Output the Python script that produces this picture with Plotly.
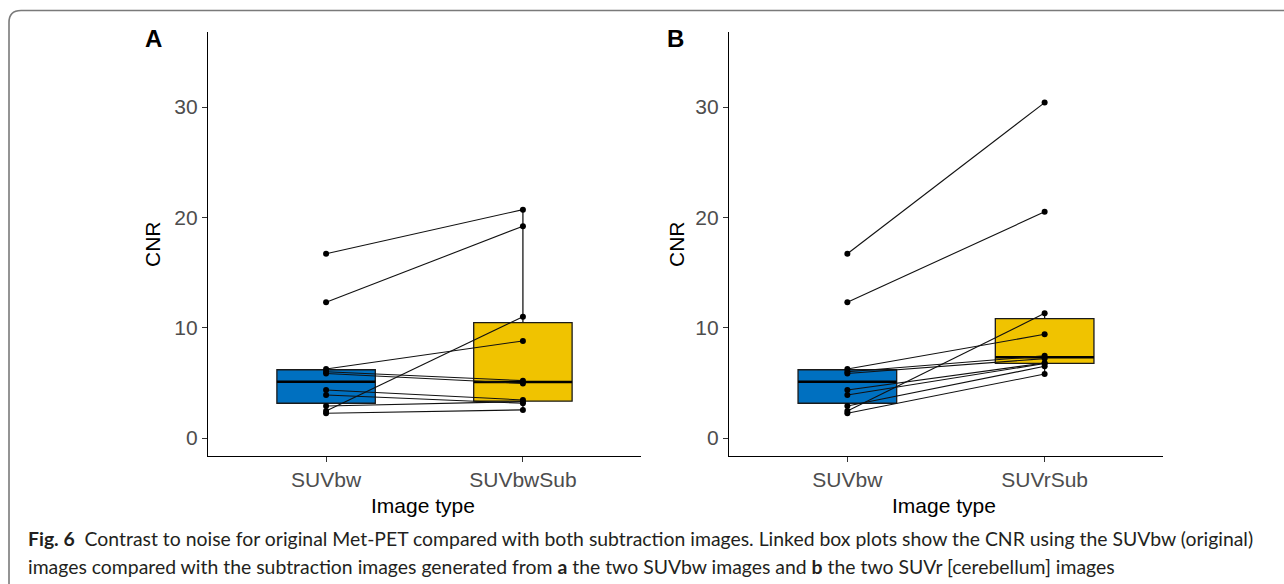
import numpy as np
import plotly.graph_objects as go

W, H = 1284, 584

# ---- data ----
categories_a = ["SUVbw", "SUVbwSub"]
categories_b = ["SUVbw", "SUVrSub"]
suvbw = [16.7, 12.3, 6.25, 6.0, 5.85, 4.35, 3.9, 2.9, 2.45, 2.25]
suvbw_sub = [20.7, 19.2, 8.8, 5.2, 4.95, 3.45, 3.15, 3.3, 11.0, 2.55]
suvr_sub = [30.4, 20.5, 9.4, 7.45, 7.2, 6.8, 6.75, 6.5, 11.3, 5.8]
y_ticks = [0, 10, 20, 30]

blue = "#0070C0"
yellow = "#F0C300"

def px(x):
    return x / W

def py(y):
    return 1 - y / H

def box_stats(vals):
    v = np.asarray(vals, dtype=float)
    q1, med, q3 = np.percentile(v, [25, 50, 75])
    iqr = q3 - q1
    lo = v[v >= q1 - 1.5 * iqr].min()
    hi = v[v <= q3 + 1.5 * iqr].max()
    return float(q1), float(med), float(q3), float(lo), float(hi)

fig = go.Figure()

panels = [
    ("x", "y", categories_a, suvbw, suvbw_sub),
    ("x2", "y2", categories_b, suvbw, suvr_sub),
]

for xa, ya, cats, left, right in panels:
    for i, (vals, col) in enumerate([(left, blue), (right, yellow)]):
        q1, med, q3, lo, hi = box_stats(vals)
        fig.add_trace(go.Box(
            x=[i], q1=[q1], median=[med], q3=[q3], lowerfence=[lo], upperfence=[hi],
            xaxis=xa, yaxis=ya,
            width=0.5, fillcolor=col, line=dict(color="#1a1a1a", width=1.3),
            whiskerwidth=0, showlegend=False, hoverinfo="skip"))
        fig.add_trace(go.Scatter(
            x=[i - 0.25, i + 0.25], y=[med, med], xaxis=xa, yaxis=ya,
            mode="lines", line=dict(color="#000000", width=2.6),
            showlegend=False, hoverinfo="skip"))
    for a, b in zip(left, right):
        fig.add_trace(go.Scatter(
            x=[0, 1], y=[a, b], xaxis=xa, yaxis=ya,
            mode="lines+markers",
            line=dict(color="#111111", width=1.1),
            marker=dict(color="#000000", size=6),
            showlegend=False, hoverinfo="skip"))

ydom = [py(456), py(32)]
axis_common = dict(showline=True, linecolor="#000000", linewidth=1.2,
                   ticks="outside", ticklen=5, tickcolor="#333333", tickwidth=1.1,
                   showgrid=False, zeroline=False,
                   tickfont=dict(family="Liberation Sans, Arial", size=21, color="#4D4D4D"))

fig.update_layout(
    width=W, height=H, margin=dict(l=0, r=0, t=0, b=0),
    paper_bgcolor="white", plot_bgcolor="white",
    xaxis=dict(domain=[px(208), px(641)], range=[-0.6, 1.6], tickvals=[0, 1],
               ticktext=categories_a, anchor="y", **axis_common),
    yaxis=dict(domain=ydom, range=[-1.63, 36.8], tickvals=y_ticks, anchor="x", **axis_common),
    xaxis2=dict(domain=[px(729), px(1163)], range=[-0.6, 1.6], tickvals=[0, 1],
                ticktext=categories_b, anchor="y2", **axis_common),
    yaxis2=dict(domain=ydom, range=[-1.63, 36.8], tickvals=y_ticks, anchor="x2", **axis_common),
)

ann = []
title_font = dict(family="Liberation Sans, Arial", size=21, color="#000000")
for cx, cy, t in [(423, 505, "Image type"), (944, 505, "Image type")]:
    ann.append(dict(x=px(cx), y=py(cy), xref="paper", yref="paper", text=t,
                    showarrow=False, font=title_font, xanchor="center", yanchor="middle"))
for cx in [152, 676]:
    ann.append(dict(x=px(cx), y=py(244), xref="paper", yref="paper", text="CNR",
                    textangle=-90, showarrow=False, font=title_font,
                    xanchor="center", yanchor="middle"))
for cx, t in [(153, "A"), (675, "B")]:
    ann.append(dict(x=px(cx), y=py(38), xref="paper", yref="paper", text="<b>%s</b>" % t,
                    showarrow=False, font=dict(family="Liberation Sans, Arial", size=24, color="#000"),
                    xanchor="center", yanchor="middle"))

cap_font = dict(family="Lato, Open Sans", size=19.4, color="#231F20")
ann.append(dict(x=px(26), y=py(538), xref="paper", yref="paper", xanchor="left", yanchor="middle",
                showarrow=False, font=cap_font,
                text="<b>Fig. 6</b>  Contrast to noise for original Met-PET compared with both subtraction images. "
                     "Linked box plots show the CNR using the SUVbw (original)"))
ann.append(dict(x=px(26), y=py(566), xref="paper", yref="paper", xanchor="left", yanchor="middle",
                showarrow=False, font=cap_font,
                text="images compared with the subtraction images generated from <b>a</b> the two SUVbw images "
                     "and <b>b</b> the two SUVr [cerebellum] images"))
fig.update_layout(annotations=ann)

# rounded frame (top and left edges)
r = 12
path = (f"M {px(W)} {py(10.5)} L {px(9 + r)} {py(10.5)} "
        f"Q {px(9)} {py(10.5)} {px(9)} {py(10.5 + r)} "
        f"L {px(9)} {py(584)}")
fig.add_shape(type="path", path=path, xref="paper", yref="paper",
              line=dict(color="#7A7A7A", width=1.6))

fig.write_html("out.html", config={"displayModeBar": False},
               post_script="document.body.style.margin='0';document.body.style.overflow='hidden';")
